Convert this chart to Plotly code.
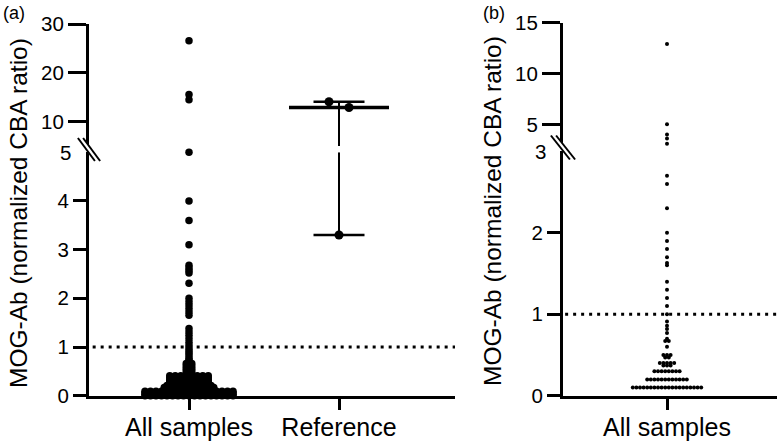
import numpy as np
import plotly.graph_objects as go

W, H = 777, 444
FONT = "Arial, Liberation Sans, Helvetica, sans-serif"

# ---------------- data ----------------
groups_a = ["All samples", "Reference"]
# panel (a) "All samples": individually readable points
samples_a_single = [26.6, 15.6, 14.5, 5.0, 4.0, 3.6, 3.1,
                    2.68, 2.62, 2.57, 2.52, 2.31,
                    2.0, 1.93, 1.86, 1.79, 1.72, 1.65,
                    1.38, 1.31, 1.24, 1.17, 1.1, 1.03,
                    0.97, 0.92, 0.87, 0.82, 0.77, 0.73]
# panel (a) "All samples": dense low values (value level, number of samples)
samples_a_levels = [0.0, 0.03, 0.06, 0.09, 0.13, 0.17, 0.21, 0.25, 0.29, 0.33, 0.37, 0.41,
                    0.46, 0.51, 0.56, 0.61, 0.66, 0.7]
samples_a_counts = [17, 17, 17, 17, 10, 10, 9, 8, 8, 8, 8, 8, 2, 2, 2, 2, 2, 1]
reference_a = [14.1, 12.9, 3.3]

groups_b = ["All samples"]
samples_b_single = [12.9, 5.0, 4.0, 3.6, 3.1, 2.7, 2.6, 2.3,
                    2.0, 1.9, 1.8, 1.7, 1.63, 1.6, 1.4, 1.3, 1.2, 1.1, 1.0,
                    0.91, 0.86, 0.82, 0.77, 0.6]
samples_b_levels = [0.1, 0.2, 0.3, 0.37, 0.4, 0.47, 0.5, 0.67, 0.7]
samples_b_counts = [20, 12, 8, 3, 5, 2, 3, 2, 1]

cutoff = 1.0
break_a, break_b = 5, 3
range_a_low, range_a_up = [0, 5], [5, 30]
range_b_low, range_b_up = [0, 3], [3, 15]
ticks_a_low = [0, 1, 2, 3, 4]
ticks_a_up = [10, 20, 30]
ticks_b_low = [0, 1, 2]
ticks_b_up = [5, 10, 15]
ytitle = "MOG-Ab (normalized CBA ratio)"

# ---------------- geometry (pixels) ----------------
PXX = 150.0                       # pixels per category unit
A_LEFT, A_RIGHT, A_CAT0 = 89, 455, 189
B_LEFT, B_RIGHT, B_CAT0 = 563, 777, 667
Y_ZERO = 395.7
A_LOW_TOP, A_UP_BOT, A_UP_TOP = 152.2, 146.0, 24.3
B_LOW_TOP, B_UP_BOT, B_UP_TOP = 151.3, 144.7, 22.7


def fx(px):
    return px / W


def fy(py):
    return 1 - py / H


def expand(single, levels, counts):
    vals = list(single)
    for v, c in zip(levels, counts):
        vals += [v] * c
    return vals


def swarm(values, tol, gap):
    """simple row swarm: values within tol share a row, spread by gap"""
    vals = sorted(values, reverse=True)
    rows = []
    for v in vals:
        if rows and rows[-1][0] - v <= tol:
            rows[-1].append(v)
        else:
            rows.append([v])
    xs, ys = [], []
    for r in rows:
        n = len(r)
        for i, v in enumerate(r):
            xs.append((i - (n - 1) / 2) * gap)
            ys.append(v)
    return np.array(xs), np.array(ys)


fig = go.Figure()


def add_points(xc, vals, brk, xa, ylow, yup, size, tol, gap_px):
    dx, yv = swarm(vals, tol, gap_px / PXX)
    lo = yv <= brk
    for mask, ya in ((lo, ylow), (~lo, yup)):
        fig.add_trace(go.Scatter(
            x=xc + dx[mask], y=yv[mask], xaxis=xa, yaxis=ya, mode="markers",
            marker=dict(size=size, color="black", line=dict(width=0)),
            cliponaxis=False, hoverinfo="skip", showlegend=False))


def add_line(xs, ys, xa, ya, w):
    fig.add_trace(go.Scatter(x=xs, y=ys, xaxis=xa, yaxis=ya, mode="lines",
                             line=dict(color="black", width=w),
                             cliponaxis=False, hoverinfo="skip", showlegend=False))


# ---- panel (a): reference summary (median + range) ----
xr = 2
med, mn, mx = np.median(reference_a), min(reference_a), max(reference_a)
half_med, half_cap = 50 / PXX, 25.5 / PXX
ya_of = lambda v: "y2" if v > break_a else "y"
if mx > break_a and mn <= break_a:
    add_line([xr, xr], [break_a, mx], "x", "y2", 2)
    add_line([xr, xr], [mn, break_a], "x", "y", 2)
else:
    add_line([xr, xr], [mn, mx], "x", ya_of(mx), 2)
add_line([xr - half_cap, xr + half_cap], [mx, mx], "x", ya_of(mx), 2.5)
add_line([xr - half_cap, xr + half_cap], [mn, mn], "x", ya_of(mn), 2.5)
add_line([xr - half_med, xr + half_med], [med, med], "x", ya_of(med), 3.5)

# ---- points ----
vals_a = expand(samples_a_single, samples_a_levels, samples_a_counts)
add_points(1, vals_a, break_a, "x", "y", "y2", 7.5, 0.0, 5.5)
add_points(2, reference_a, break_a, "x", "y", "y2", 9, 1.5, 20)
vals_b = expand(samples_b_single, samples_b_levels, samples_b_counts)
add_points(1, vals_b, break_b, "x2", "y3", "y4", 4, 0.0, 3.6)

# ---------------- axes ----------------
base = dict(showline=True, linewidth=3, linecolor="black", ticks="outside",
            tickwidth=3, tickcolor="black", showgrid=False, zeroline=False,
            automargin=False,
            tickfont=dict(family=FONT, size=20.5, color="black"), fixedrange=True)
xfont = dict(family=FONT, size=25, color="black")

xa_range = [1 - (A_CAT0 - A_LEFT) / PXX, 1 - (A_CAT0 - A_LEFT) / PXX + (A_RIGHT - A_LEFT) / PXX]
xb_range = [1 - (B_CAT0 - B_LEFT) / PXX, 1 - (B_CAT0 - B_LEFT) / PXX + (B_RIGHT - B_LEFT) / PXX]

fig.update_layout(
    width=W, height=H, autosize=False,
    margin=dict(l=0, r=0, t=0, b=0, pad=0, autoexpand=False),
    paper_bgcolor="white", plot_bgcolor="white", showlegend=False,
    xaxis=dict(base, domain=[fx(A_LEFT), fx(A_RIGHT)], range=xa_range, anchor="y",
               tickvals=[1, 2], ticktext=groups_a, ticklen=11, tickfont=xfont,
               ticklabelstandoff=-4),
    yaxis=dict(base, domain=[fy(Y_ZERO), fy(A_LOW_TOP)], range=range_a_low, anchor="x",
               tickvals=ticks_a_low, ticklen=13),
    yaxis2=dict(base, domain=[fy(A_UP_BOT), fy(A_UP_TOP)], range=range_a_up, anchor="x",
                tickvals=ticks_a_up, ticklen=18),
    xaxis2=dict(base, domain=[fx(B_LEFT), fx(B_RIGHT)], range=xb_range, anchor="y3",
                tickvals=[1], ticktext=groups_b, ticklen=11, tickfont=xfont,
                ticklabelstandoff=-4),
    yaxis3=dict(base, domain=[fy(Y_ZERO), fy(B_LOW_TOP)], range=range_b_low, anchor="x2",
                tickvals=ticks_b_low, ticklen=13),
    yaxis4=dict(base, domain=[fy(B_UP_BOT), fy(B_UP_TOP)], range=range_b_up, anchor="x2",
                tickvals=ticks_b_up, ticklen=18),
)

# ---------------- cutoff lines ----------------
for xref, yref in (("x domain", "y"), ("x2 domain", "y3")):
    fig.add_shape(type="line", xref=xref, yref=yref, x0=0.01, x1=1, y0=cutoff, y1=cutoff,
                  line=dict(color="black", width=3, dash="3px,5px"), layer="below")


# ---------------- axis break marks ----------------
def brk(cx, cy, dx, dy):
    fig.add_shape(type="line", xref="paper", yref="paper",
                  x0=fx(cx - dx), y0=fy(cy - dy), x1=fx(cx + dx), y1=fy(cy + dy),
                  line=dict(color="white", width=5))
    for off in (-2.6, 2.6):
        fig.add_shape(type="line", xref="paper", yref="paper",
                      x0=fx(cx - dx + off), y0=fy(cy - dy), x1=fx(cx + dx + off), y1=fy(cy + dy),
                      line=dict(color="black", width=2))


brk(89, 149.5, 8.5, 11.5)
brk(563, 147.5, 9.5, 12)

# top-of-lower-segment labels (tick hidden by the break)
for xpx, yref, v in ((73, "y", break_a), (548, "y3", break_b)):
    fig.add_annotation(text=str(v), xref="paper", yref=yref, x=fx(xpx), y=v,
                       xanchor="right", yanchor="middle", showarrow=False,
                       font=dict(family=FONT, size=20.5, color="black"))

# ---------------- titles & panel letters ----------------
for xpx, ypx in ((18, 213), (493, 211)):
    fig.add_annotation(text=ytitle, textangle=-90, xref="paper", yref="paper",
                       x=fx(xpx), y=fy(ypx), xanchor="center", yanchor="middle",
                       showarrow=False, font=dict(family=FONT, size=24.5, color="black"))
for txt, xpx in (("(a)", 1), ("(b)", 481)):
    fig.add_annotation(text=txt, xref="paper", yref="paper", x=fx(xpx), y=fy(13.5),
                       xanchor="left", yanchor="middle", showarrow=False,
                       font=dict(family=FONT, size=18, color="black"))

fig.write_html("out.html", config={"displayModeBar": False},
               post_script="document.body.style.margin='0px';")
